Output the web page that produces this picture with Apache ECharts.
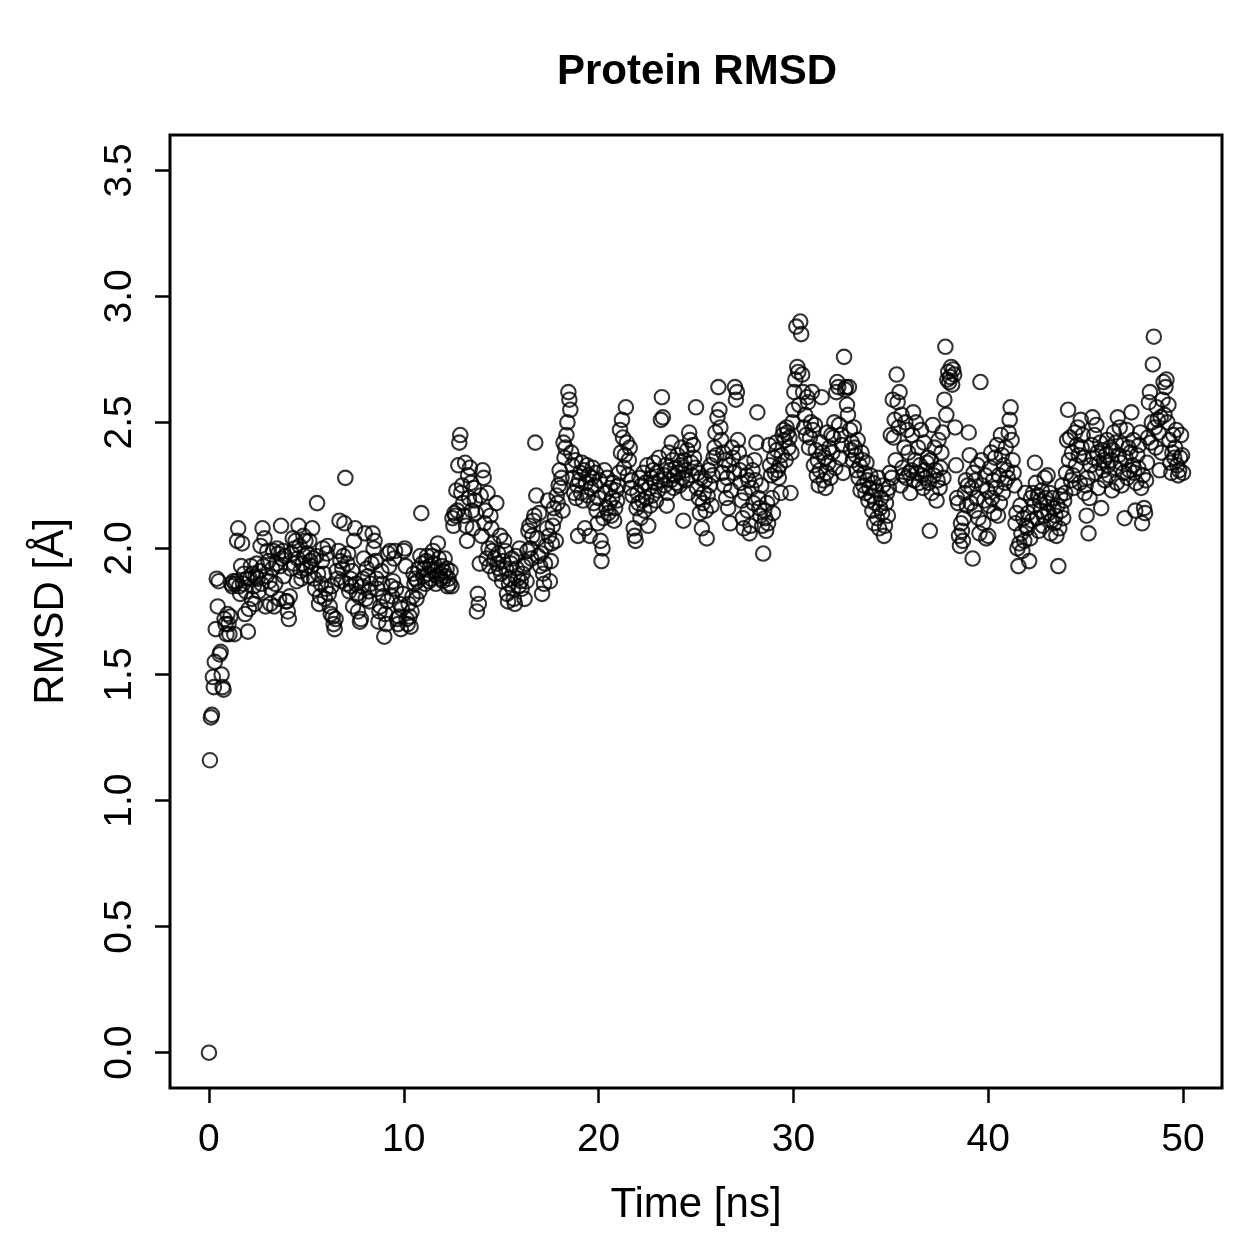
<!DOCTYPE html>
<html>
<head>
<meta charset="utf-8">
<script src="https://cdn.jsdelivr.net/npm/echarts@6/dist/echarts.min.js"></script>
<style>
  html, body { margin: 0; padding: 0; background: #fff; }
  #chart { width: 1259px; height: 1259px; }
</style>
</head>
<body>
<div id="chart"></div>
<script>
// sampling interval of the trajectory, ns
const dt = 0.05;

// RMSD values in Angstrom, one per frame (20 frames per ns)
const rmsd = [
  0.00, 1.16, 1.33, 1.34, 1.49, 1.45, 1.55, 1.68, 1.88, 1.77, 1.87, 1.58, 1.59, 1.50, 1.45, 1.44, 1.72, 1.70, 1.66, 1.74,
  1.70, 1.66, 1.73, 1.86, 1.85, 1.87, 1.66, 1.86, 1.87, 2.03, 2.08, 1.85, 1.82, 1.93, 2.02, 1.86, 1.90, 1.74, 1.83, 1.88,
  1.67, 1.76, 1.88, 1.93, 1.80, 1.90, 1.85, 1.78, 1.89, 1.94, 1.88, 1.83, 1.91, 2.01, 1.86, 2.08, 1.93, 2.04, 1.77, 1.89,
  1.99, 1.95, 1.87, 1.78, 1.84, 1.92, 1.99, 1.77, 1.86, 1.94, 2.00, 1.98, 1.80, 1.93, 2.09, 1.96, 1.99, 1.89, 1.97, 1.79,
  1.79, 1.75, 1.72, 1.81, 1.92, 1.98, 2.04, 1.94, 2.00, 2.03, 1.87, 1.96, 2.09, 2.01, 1.91, 1.88, 1.94, 2.05, 1.97, 2.03,
  1.92, 1.98, 1.89, 2.03, 1.95, 1.93, 2.08, 1.96, 1.88, 1.84, 1.97, 2.18, 1.90, 1.78, 1.81, 1.86, 1.95, 2.00, 1.90, 1.80,
  1.84, 1.98, 2.01, 1.82, 1.77, 1.74, 1.85, 1.73, 1.70, 1.68, 1.72, 1.91, 1.88, 1.99, 2.11, 1.95, 1.87, 1.92, 1.97, 2.10,
  2.28, 1.86, 1.94, 1.98, 1.83, 1.88, 1.85, 1.91, 1.77, 2.03, 2.08, 1.86, 1.82, 1.75, 1.81, 1.71, 1.72, 1.85, 1.88, 1.96,
  2.06, 1.80, 1.92, 1.89, 1.83, 1.79, 1.86, 1.94, 2.06, 2.00, 2.03, 1.95, 1.88, 1.84, 1.71, 1.75, 1.77, 1.91, 1.86, 1.81,
  1.65, 1.74, 1.70, 1.79, 1.98, 1.93, 1.99, 1.85, 1.81, 1.87, 1.96, 1.99, 1.84, 1.72, 1.70, 1.73, 1.78, 1.68, 1.76, 1.82,
  1.99, 2.00, 1.93, 1.72, 1.70, 1.78, 1.73, 1.69, 1.75, 1.81, 1.90, 1.86, 1.88, 1.80, 1.87, 1.92, 1.83, 1.97, 2.14, 1.94,
  1.89, 1.92, 1.86, 1.95, 1.97, 1.90, 1.87, 1.93, 1.88, 1.97, 1.99, 1.94, 1.91, 1.86, 1.89, 2.02, 1.96, 1.90, 1.88, 1.93,
  1.87, 1.91, 1.96, 1.89, 1.92, 1.85, 1.88, 1.86, 1.91, 1.85, 2.12, 2.09, 2.14, 2.13, 2.23, 2.15, 2.33, 2.42, 2.45, 2.22,
  2.25, 2.18, 2.13, 2.34, 2.09, 2.03, 2.29, 2.20, 2.32, 2.26, 2.15, 2.08, 2.24, 2.19, 2.14, 1.75, 1.82, 1.78, 1.94, 2.21,
  2.05, 2.31, 2.28, 2.10, 2.15, 1.96, 2.22, 2.00, 1.93, 2.13, 2.08, 1.99, 2.02, 1.96, 1.90, 2.18, 1.94, 1.98, 1.92, 2.05,
  1.90, 1.87, 1.95, 2.03, 1.99, 1.92, 1.82, 1.79, 1.86, 1.88, 1.94, 1.96, 1.84, 1.80, 1.78, 1.97, 1.92, 1.88, 1.85, 2.00,
  1.87, 1.84, 1.90, 1.93, 1.80, 1.94, 1.87, 1.99, 2.07, 2.09, 2.00, 1.96, 2.05, 2.11, 2.13, 2.42, 2.21, 2.04, 1.97, 2.14,
  1.93, 1.98, 1.82, 1.90, 1.86, 1.94, 2.01, 2.08, 2.19, 2.05, 1.87, 1.95, 2.02, 2.09, 2.16, 2.12, 2.03, 2.21, 2.18, 2.25,
  2.31, 2.24, 2.28, 2.15, 2.42, 2.36, 2.40, 2.45, 2.50, 2.62, 2.59, 2.55, 2.38, 2.33, 2.28, 2.22, 2.35, 2.20, 2.25, 2.05,
  2.27, 2.30, 2.22, 2.34, 2.19, 2.31, 2.08, 2.26, 2.33, 2.21, 2.29, 2.05, 2.24, 2.28, 2.32, 2.18, 2.25, 2.30, 2.15, 2.10,
  2.20, 2.27, 2.03, 1.95, 2.00, 2.12, 2.31, 2.22, 2.16, 2.28, 2.14, 2.18, 2.24, 2.13, 2.20, 2.26, 2.11, 2.16, 2.23, 2.19,
  2.25, 2.30, 2.47, 2.38, 2.51, 2.44, 2.32, 2.37, 2.56, 2.42, 2.29, 2.35, 2.40, 2.24, 2.27, 2.21, 2.08, 2.05, 2.03, 2.16,
  2.22, 2.18, 2.28, 2.12, 2.25, 2.19, 2.30, 2.15, 2.26, 2.20, 2.33, 2.09, 2.24, 2.17, 2.28, 2.21, 2.31, 2.34, 2.26, 2.19,
  2.30, 2.23, 2.36, 2.27, 2.51, 2.60, 2.52, 2.29, 2.25, 2.33, 2.17, 2.22, 2.38, 2.31, 2.27, 2.42, 2.35, 2.24, 2.29, 2.32,
  2.26, 2.37, 2.30, 2.25, 2.33, 2.40, 2.28, 2.11, 2.35, 2.31, 2.27, 2.39, 2.22, 2.46, 2.43, 2.34, 2.29, 2.41, 2.36, 2.32,
  2.56, 2.24, 2.30, 2.20, 2.14, 2.28, 2.08, 2.18, 2.22, 2.27, 2.15, 2.04, 2.21, 2.31, 2.25, 2.33, 2.17, 2.29, 2.36, 2.40,
  2.46, 2.37, 2.52, 2.64, 2.55, 2.48, 2.43, 2.30, 2.38, 2.25, 2.35, 2.20, 2.28, 2.16, 2.33, 2.10, 2.23, 2.40, 2.36, 2.30,
  2.64, 2.59, 2.62, 2.43, 2.38, 2.31, 2.26, 2.19, 2.12, 2.08, 2.22, 2.34, 2.29, 2.15, 2.27, 2.06, 2.09, 2.24, 2.31, 2.18,
  2.35, 2.27, 2.42, 2.54, 2.20, 2.16, 2.13, 2.25, 2.09, 1.98, 2.15, 2.12, 2.07, 2.18, 2.10, 2.41, 2.33, 2.29, 2.20, 2.14,
  2.36, 2.30, 2.42, 2.39, 2.31, 2.28, 2.33, 2.22, 2.37, 2.45, 2.47, 2.43, 2.35, 2.48, 2.46, 2.40, 2.44, 2.22, 2.38, 2.50,
  2.55, 2.62, 2.67, 2.88, 2.72, 2.70, 2.57, 2.90, 2.85, 2.69, 2.62, 2.48, 2.53, 2.45, 2.60, 2.58, 2.40, 2.44, 2.50, 2.62,
  2.47, 2.33, 2.49, 2.39, 2.29, 2.35, 2.25, 2.31, 2.42, 2.60, 2.38, 2.27, 2.36, 2.24, 2.30, 2.46, 2.34, 2.40, 2.28, 2.45,
  2.38, 2.44, 2.50, 2.32, 2.62, 2.66, 2.64, 2.49, 2.36, 2.45, 2.41, 2.30, 2.76, 2.63, 2.64, 2.57, 2.53, 2.64, 2.47, 2.39,
  2.42, 2.35, 2.48, 2.40, 2.37, 2.31, 2.43, 2.28, 2.33, 2.23, 2.38, 2.35, 2.25, 2.30, 2.22, 2.34, 2.27, 2.19, 2.24, 2.29,
  2.21, 2.15, 2.26, 2.10, 2.18, 2.23, 2.12, 2.28, 2.08, 2.16, 2.20, 2.14, 2.25, 2.05, 2.09, 2.18, 2.22, 2.13, 2.24, 2.30,
  2.45, 2.28, 2.59, 2.44, 2.51, 2.35, 2.69, 2.58, 2.48, 2.62, 2.25, 2.53, 2.32, 2.29, 2.40, 2.50, 2.28, 2.47, 2.38, 2.30,
  2.22, 2.31, 2.45, 2.54, 2.27, 2.35, 2.50, 2.30, 2.40, 2.26, 2.33, 2.47, 2.29, 2.24, 2.42, 2.31, 2.28, 2.34, 2.36, 2.26,
  2.07, 2.35, 2.22, 2.49, 2.29, 2.40, 2.31, 2.19, 2.27, 2.43, 2.24, 2.32, 2.38, 2.46, 2.28, 2.59, 2.80, 2.53, 2.67, 2.70,
  2.66, 2.68, 2.72, 2.65, 2.71, 2.69, 2.48, 2.33, 2.20, 2.18, 2.05, 2.01, 2.10, 2.07, 2.03, 2.12, 2.22, 2.27, 2.17, 2.25,
  2.46, 2.37, 2.18, 2.24, 1.96, 2.30, 2.15, 2.27, 2.20, 2.33, 2.12, 2.06, 2.66, 2.35, 2.25, 2.10, 2.19, 2.29, 2.04, 2.23,
  2.05, 2.17, 2.32, 2.38, 2.20, 2.27, 2.14, 2.36, 2.24, 2.41, 2.13, 2.29, 2.18, 2.45, 2.37, 2.22, 2.33, 2.26, 2.40, 2.31,
  2.28, 2.46, 2.51, 2.56, 2.43, 2.35, 2.30, 2.25, 2.10, 2.14, 2.00, 1.93, 2.02, 2.17, 2.06, 1.99, 2.12, 2.03, 2.22, 2.09,
  2.08, 2.14, 1.95, 2.04, 2.20, 2.11, 2.22, 2.17, 2.34, 2.26, 2.12, 2.21, 2.07, 2.19, 2.15, 2.23, 2.09, 2.13, 2.28, 2.20,
  2.18, 2.29, 2.14, 2.22, 2.06, 2.11, 2.20, 2.16, 2.10, 2.13, 2.05, 2.17, 1.93, 2.08, 2.21, 2.15, 2.25, 2.12, 2.19, 2.22,
  2.30, 2.43, 2.55, 2.35, 2.44, 2.27, 2.38, 2.29, 2.24, 2.46, 2.33, 2.41, 2.48, 2.37, 2.26, 2.51, 2.40, 2.45, 2.36, 2.22,
  2.25, 2.13, 2.28, 2.06, 2.20, 2.33, 2.41, 2.52, 2.36, 2.45, 2.30, 2.49, 2.38, 2.24, 2.34, 2.42, 2.16, 2.39, 2.31, 2.35,
  2.27, 2.37, 2.43, 2.33, 2.29, 2.40, 2.35, 2.23, 2.39, 2.46, 2.32, 2.42, 2.26, 2.52, 2.37, 2.48, 2.34, 2.25, 2.41, 2.30,
  2.12, 2.36, 2.47, 2.28, 2.40, 2.31, 2.38, 2.54, 2.33, 2.43, 2.30, 2.15, 2.26, 2.37, 2.32, 2.41, 2.46, 2.24, 2.10, 2.29,
  2.16, 2.14, 2.27, 2.34, 2.44, 2.58, 2.62, 2.42, 2.50, 2.73, 2.84, 2.48, 2.40, 2.56, 2.51, 2.46, 2.31, 2.52, 2.38, 2.59,
  2.66, 2.53, 2.64, 2.67, 2.50, 2.57, 2.43, 2.34, 2.30, 2.38, 2.45, 2.36, 2.40, 2.47, 2.33, 2.29, 2.31, 2.36, 2.45, 2.37,
  2.30
];

const xTicks = [0, 10, 20, 30, 40, 50];
const yTicks = [0, 0.5, 1, 1.5, 2, 2.5, 3, 3.5];

const font = '"Liberation Sans", Arial, Helvetica, sans-serif';
const chart = echarts.init(document.getElementById('chart'));

const points = rmsd.map((v, i) => [+(i * dt).toFixed(2), v]);

chart.setOption({
  animation: false,
  backgroundColor: '#fff',
  title: {
    text: 'Protein RMSD',
    left: 692,
    top: 46,
    textAlign: 'center',
    textStyle: { fontFamily: font, fontWeight: 'bold', fontSize: 42, color: '#000' }
  },
  grid: {
    left: 170, top: 135, width: 1052, height: 953,
    show: true, borderColor: '#000', borderWidth: 3, backgroundColor: 'transparent'
  },
  xAxis: {
    type: 'value',
    min: -2, max: 52,
    name: 'Time [ns]',
    nameLocation: 'middle',
    nameGap: 96,
    nameTextStyle: { fontFamily: font, fontSize: 42, color: '#000' },
    axisLine: { show: false, onZero: false },
    splitLine: { show: false },
    axisTick: { show: true, inside: false, length: 15, lineStyle: { color: '#000', width: 2.5 }, customValues: xTicks },
    axisLabel: {
      customValues: xTicks, margin: 33,
      fontFamily: font, fontSize: 39, color: '#000'
    }
  },
  yAxis: {
    type: 'value',
    min: -0.14, max: 3.64,
    name: 'RMSD [Å]',
    nameLocation: 'middle',
    nameGap: 98,
    nameRotate: 90,
    nameTextStyle: { fontFamily: font, fontSize: 42, color: '#000' },
    axisLine: { show: false, onZero: false },
    splitLine: { show: false },
    axisTick: { show: true, inside: false, length: 15, lineStyle: { color: '#000', width: 2.5 }, customValues: yTicks },
    axisLabel: {
      customValues: yTicks, margin: 30, rotate: 90,
      formatter: v => v.toFixed(1),
      fontFamily: font, fontSize: 39, color: '#000'
    }
  },
  series: [{
    type: 'scatter',
    data: points,
    symbol: 'circle',
    symbolSize: 14.5,
    itemStyle: { color: 'rgba(0,0,0,0)', borderColor: '#000', borderWidth: 2.1 },
    emphasis: { disabled: true }
  }]
});
</script>
</body>
</html>
